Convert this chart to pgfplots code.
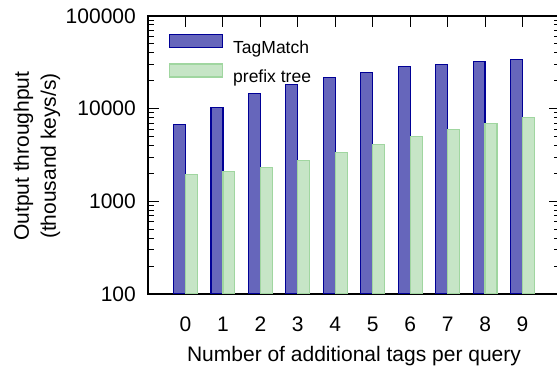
\documentclass[border=0pt]{standalone}
\usepackage{fontspec}
\setmainfont{Liberation Sans}
\usepackage{pgfplots}
\pgfplotsset{compat=1.18}

\definecolor{tmfill}{RGB}{102,102,187}
\definecolor{tmdraw}{RGB}{0,0,150}
\definecolor{ptfill}{RGB}{198,229,198}
\definecolor{ptdraw}{RGB}{160,214,160}

\pgfplotsset{
  tmlegend/.style={legend image code/.code={%
      \draw[fill=tmfill, draw=tmdraw, line width=1.2bp] (0bp,0.3bp) rectangle (53bp,13.3bp);}},
  ptlegend/.style={legend image code/.code={%
      \draw[fill=ptfill, draw=ptdraw, line width=1.2bp] (0bp,0.3bp) rectangle (53bp,13.3bp);}},
}

\begin{document}
\begin{tikzpicture}
\begin{axis}[
  at={(148bp,73bp)}, anchor=south west,
  scale only axis, width=412bp, height=278bp,
  xmin=-1, xmax=10,
  ymode=log, ymin=100, ymax=100000, log origin=infty,
  xtick={0,1,2,3,4,5,6,7,8,9},
  xtick pos=upper, xticklabel pos=lower,
  ytick={100,1000,10000,100000},
  yticklabels={100,1000,10000,100000},
  minor ytick={200,300,400,500,600,700,800,900,
               2000,3000,4000,5000,6000,7000,8000,9000,
               20000,30000,40000,50000,60000,70000,80000,90000},
  ytick pos=both, yticklabel pos=left,
  tick align=inside,
  major tick length=11bp, minor tick length=6bp,
  every tick/.style={black, line width=1bp},
  axis line style={black, line width=1.4bp},
  /pgf/number format/assume math mode=true,
  tick label style={font=\fontsize{21bp}{25bp}\selectfont},
  xticklabel style={anchor=north, inner sep=0pt, yshift=-23bp},
  yticklabel style={anchor=east, inner sep=0pt, xshift=-12bp},
  xlabel={Number of additional tags per query},
  xlabel style={at={(axis description cs:0.5,-0.2446)}, anchor=base,
                inner sep=0pt, font=\fontsize{21bp}{25bp}\selectfont},
  ylabel={Output throughput\\(thousand keys/s)},
  ylabel style={at={(axis description cs:-0.2694,0.496)}, anchor=center,
                inner sep=0pt, align=center,
                font=\fontsize{21bp}{27bp}\selectfont},
  legend style={draw=none, fill=none, at={(0.051,0.9353)}, anchor=north west,
                inner sep=0pt, outer sep=0pt, row sep=8.4bp, column sep=10bp,
                font=\fontsize{17.5bp}{21bp}\selectfont,
                nodes={inner sep=0pt}},
  legend cell align=left,
]
% TagMatch
\addplot[ybar, bar width=0.32, bar shift=-0.16,
         fill=tmfill, draw=tmdraw, line width=1.2bp, tmlegend]
  coordinates {(0,6800) (1,10200) (2,14500) (3,18200) (4,21800)
               (5,24800) (6,28500) (7,30200) (8,32500) (9,34200)};
\addlegendentry{TagMatch}
% prefix tree
\addplot[ybar, bar width=0.32, bar shift=0.16,
         fill=ptfill, draw=ptdraw, line width=1.2bp, ptlegend]
  coordinates {(0,1960) (1,2080) (2,2340) (3,2780) (4,3370)
               (5,4100) (6,5000) (7,5900) (8,6900) (9,8000)};
\addlegendentry{prefix tree}
\end{axis}
\pgfresetboundingbox
\path[use as bounding box] (0,0) rectangle (557bp,367bp);
\end{tikzpicture}
\end{document}
